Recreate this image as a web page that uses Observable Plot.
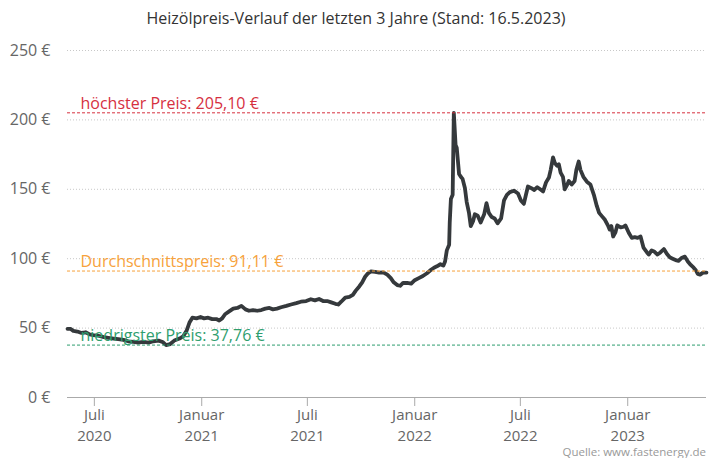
<!DOCTYPE html>
<html>
<head>
<meta charset="utf-8">
<script src="https://cdn.jsdelivr.net/npm/d3@7"></script>
<script src="https://cdn.jsdelivr.net/npm/@observablehq/plot@0.6"></script>
<style>
  body { margin: 0; background: #fff; width: 712px; height: 458px; overflow: hidden; font-family: "Open Sans", sans-serif; }
  #title { height: 36px; line-height: 36px; text-align: center; font-size: 16px; color: #333; }
  #chart svg { display: block; }
  #caption { height: 12px; line-height: 12px; text-align: right; padding-right: 6px; font-size: 11.5px; color: #999; }
</style>
</head>
<body>
<div id="title">Heizölpreis-Verlauf der letzten 3 Jahre (Stand: 16.5.2023)</div>
<div id="chart"></div>
<div id="caption">Quelle: www.fastenergy.de</div>
<script>
const dates = [
  "2020-05-16","2020-05-21","2020-05-26","2020-06-02","2020-06-09","2020-06-16","2020-06-23","2020-06-29",
  "2020-07-08","2020-07-17","2020-07-25","2020-08-03","2020-08-11","2020-08-20","2020-08-28","2020-09-06",
  "2020-09-14","2020-09-23","2020-10-02","2020-10-10","2020-10-19","2020-10-26","2020-11-01","2020-11-08",
  "2020-11-15","2020-11-24","2020-11-30","2020-12-06","2020-12-11","2020-12-16","2020-12-23","2020-12-30",
  "2021-01-05","2021-01-12","2021-01-19","2021-01-26","2021-01-31","2021-02-05","2021-02-10","2021-02-17",
  "2021-02-24","2021-03-03","2021-03-10","2021-03-17","2021-03-23","2021-03-30","2021-04-06","2021-04-13",
  "2021-04-20","2021-04-27","2021-05-03","2021-05-10","2021-05-17","2021-05-26","2021-06-03","2021-06-12",
  "2021-06-20","2021-06-29","2021-07-07","2021-07-14","2021-07-21","2021-07-28","2021-08-04","2021-08-11",
  "2021-08-18","2021-08-23","2021-08-28","2021-09-04","2021-09-11","2021-09-17","2021-09-22","2021-09-28",
  "2021-10-03","2021-10-08","2021-10-13","2021-10-18","2021-10-25","2021-11-01","2021-11-08","2021-11-15",
  "2021-11-21","2021-11-26","2021-12-02","2021-12-07","2021-12-12","2021-12-19","2021-12-26","2022-01-01",
  "2022-01-08","2022-01-15","2022-01-22","2022-01-29","2022-02-03","2022-02-08","2022-02-14","2022-02-19",
  "2022-02-22","2022-02-25","2022-03-01","2022-03-02","2022-03-04","2022-03-07","2022-03-09","2022-03-12",
  "2022-03-14","2022-03-18","2022-03-21","2022-03-24","2022-03-28","2022-03-31","2022-04-04","2022-04-07",
  "2022-04-11","2022-04-14","2022-04-19","2022-04-24","2022-04-30","2022-05-04","2022-05-08","2022-05-13",
  "2022-05-18","2022-05-23","2022-05-29","2022-06-03","2022-06-08","2022-06-13","2022-06-20","2022-06-27",
  "2022-07-02","2022-07-07","2022-07-10","2022-07-14","2022-07-19","2022-07-25","2022-07-30","2022-08-04",
  "2022-08-09","2022-08-14","2022-08-19","2022-08-22","2022-08-26","2022-08-29","2022-09-02","2022-09-05",
  "2022-09-08","2022-09-12","2022-09-15","2022-09-19","2022-09-22","2022-09-27","2022-10-02","2022-10-05",
  "2022-10-09","2022-10-12","2022-10-17","2022-10-23","2022-10-29","2022-11-04","2022-11-09","2022-11-13",
  "2022-11-18","2022-11-23","2022-11-28","2022-12-01","2022-12-04","2022-12-07","2022-12-11","2022-12-14",
  "2022-12-20","2022-12-25","2022-12-28","2023-01-03","2023-01-08","2023-01-13","2023-01-18","2023-01-23",
  "2023-01-28","2023-02-03","2023-02-06","2023-02-11","2023-02-16","2023-02-21","2023-02-26","2023-03-04",
  "2023-03-09","2023-03-14","2023-03-19","2023-03-24","2023-03-29","2023-04-03","2023-04-09","2023-04-14",
  "2023-04-19","2023-04-24","2023-04-28","2023-05-01","2023-05-05","2023-05-10","2023-05-16"
];
const prices = [
  49.5,49.5,48,47.5,46.5,47,45.5,45,
  44.5,43.5,43,42.5,42,41.5,40.5,40,
  39.5,40,39.5,40.5,41,40,37.76,38.5,
  41,42.5,44,48,54,57.5,57,58,
  57,57.5,56.5,56.5,55.5,57,60,62,
  64,64.5,66,63.5,62.5,63,62.5,63,
  64,64.5,63.5,64,65,66,67,68,
  69,69.5,70.8,70,71,69.5,69.5,68.5,
  67.5,67,69,72,72.5,74,77,80,
  83,87,89.5,90.8,90.5,90,90.2,88.5,
  86,83,81,80.5,82.5,82.5,82,84.5,
  86,87.5,89.5,92,93.5,94.5,96,95,
  98,106,110,126,143,146,205.1,182,
  180,161,159,157.5,151,141,133,123.5,
  127,132,131,126,132,140,133,130,
  129,125.5,129,142,146,148,149,147,
  142,139.5,145,152,151,149.5,151.5,150,
  148.5,155,158.5,164,173,169,167,168,
  162,159,150,153,156,153.5,156,164,
  170,164,159,155.5,153.5,146,138,133,
  130.5,128,124,121,123.5,116,119,124,
  122.5,123,124,118.5,115,115.5,115,116,
  108,104.5,103,106,105,103,104.5,107,
  103.5,101,100,99,98.5,100.5,101.5,98,
  95.5,93.5,91.5,89,88.5,90,90
];
const yTicks = [0, 50, 100, 150, 200, 250];
const xTickDates = ["2020-07-01","2021-01-01","2021-07-01","2022-01-01","2022-07-01","2023-01-01"];
const xTickMonths = ["Juli","Januar","Juli","Januar","Juli","Januar"];
const xTickYears = ["2020","2021","2021","2022","2022","2023"];
const refValues = [205.10, 91.11, 37.76];
const refLabels = ["höchster Preis: 205,10 €", "Durchschnittspreis: 91,11 €", "niedrigster Preis: 37,76 €"];
const refColors = ["#d6303f", "#f7a23b", "#2e9e6e"];

const data = dates.map((d, i) => ({date: new Date(d), price: prices[i]}));
const tickDates = xTickDates.map(d => new Date(d));
const monthOf = new Map(tickDates.map((d, i) => [+d, xTickMonths[i]]));
const yearOf = new Map(tickDates.map((d, i) => [+d, xTickYears[i]]));
const refs = refValues.map((v, i) => ({v, label: refLabels[i], color: refColors[i]}));

const chart = Plot.plot({
  width: 712,
  height: 410,
  marginTop: 14,
  marginBottom: 49,
  marginLeft: 67,
  marginRight: 6,
  style: {fontFamily: "'Open Sans', sans-serif", fontSize: "15px", color: "#666", background: "#fff"},
  x: {type: "utc", domain: [new Date("2020-05-16"), new Date("2023-05-16")]},
  y: {domain: [0, 250]},
  marks: [
    Plot.gridY([50, 100, 150, 200, 250], {stroke: "#c8c8c8", strokeOpacity: 1, strokeDasharray: "1,2"}),
    Plot.ruleY([0], {stroke: "#aaa"}),
    Plot.line(data, {x: "date", y: "price", stroke: "#35393c", strokeWidth: 3.8, strokeLinejoin: "round"}),
    Plot.ruleY(refs, {y: "v", stroke: "color", strokeDasharray: "3,2", strokeWidth: 1}),
    Plot.text(refs, {y: "v", text: "label", fill: "color", frameAnchor: "left", textAnchor: "start", dx: 13, dy: -9, fontSize: 16}),
    Plot.axisY({ticks: yTicks, tickFormat: d => `${d} €`, tickSize: 0, tickPadding: 17, fontSize: 16, fill: "#666"}),
    Plot.axisX({ticks: tickDates, tickFormat: d => monthOf.get(+d), tickSize: 9, tickPadding: 3, stroke: "#aaa", fill: "#666", fontSize: 15}),
    Plot.axisX({ticks: tickDates, tickFormat: d => yearOf.get(+d), tickSize: 0, tickPadding: 33, fill: "#666", fontSize: 15})
  ]
});
document.getElementById("chart").appendChild(chart);
</script>
</body>
</html>
